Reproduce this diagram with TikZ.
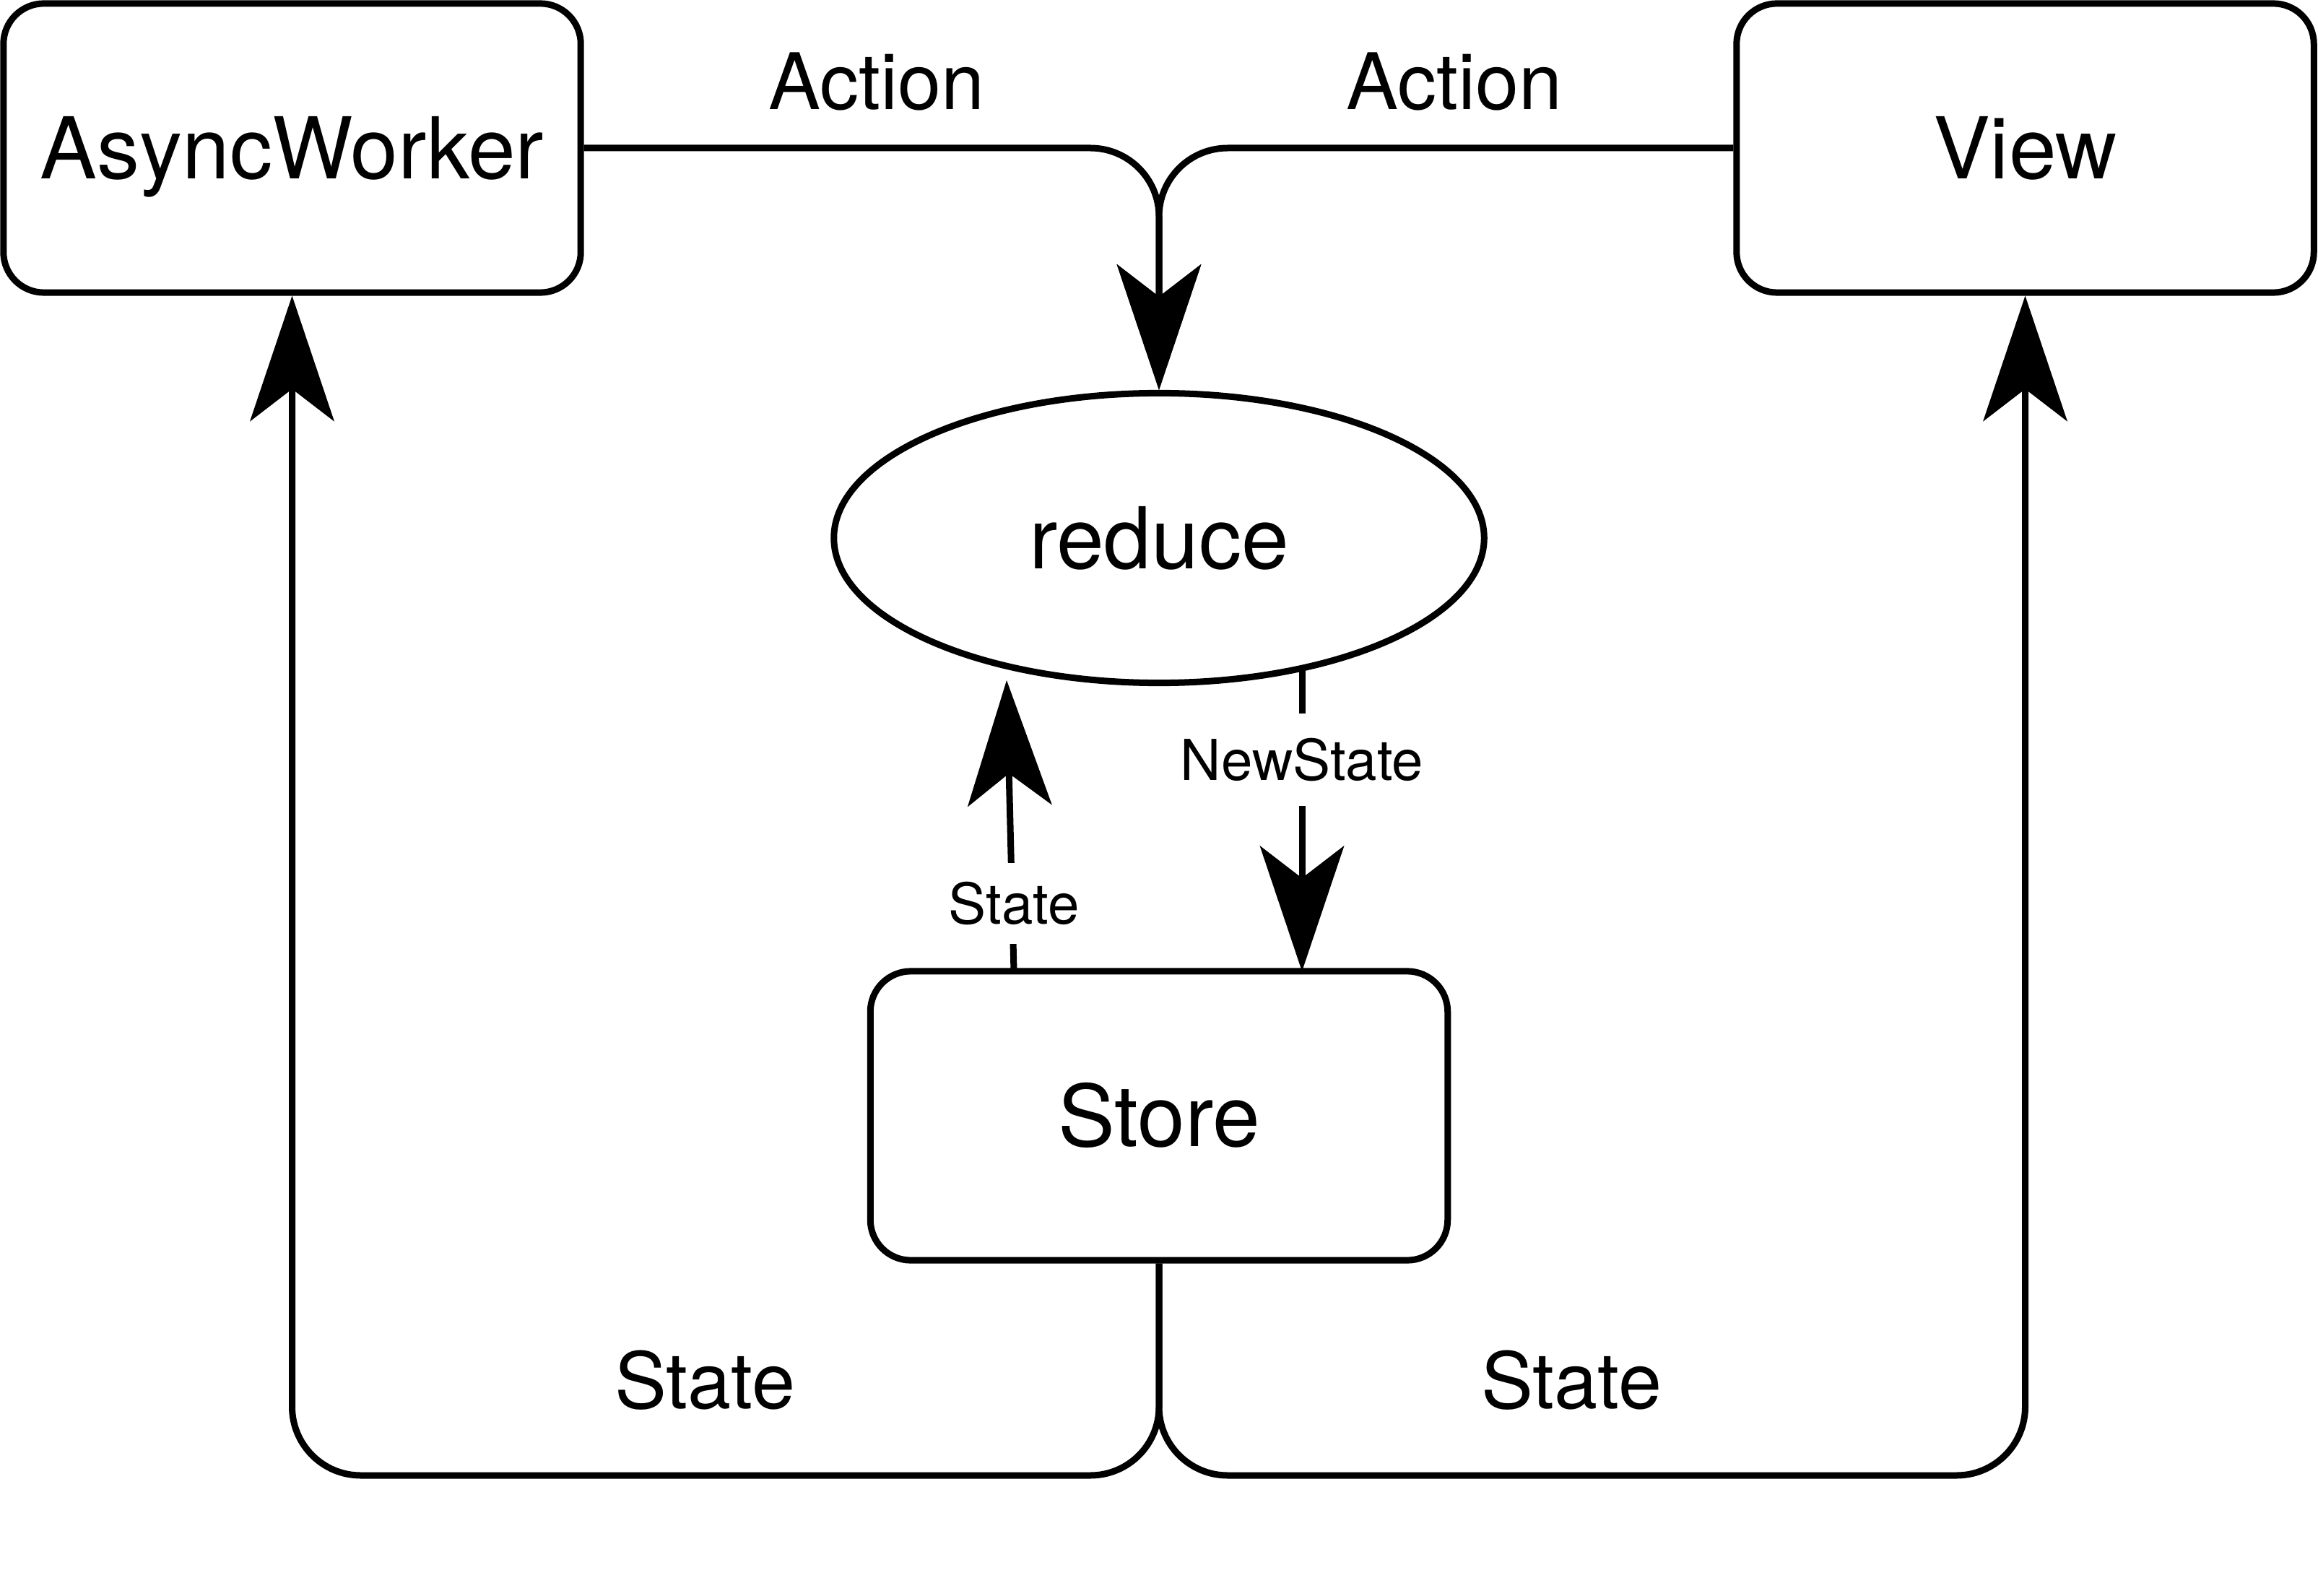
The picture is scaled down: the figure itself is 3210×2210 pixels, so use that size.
\documentclass[tikz,border=0pt]{standalone}
\usepackage{fontspec}
\setmainfont{TeX Gyre Heros}
\usetikzlibrary{arrows.meta,shapes.geometric}
\begin{document}
\begin{tikzpicture}[x=0.01cm,y=-0.01cm,line width=2.56pt,
  box/.style={draw,rounded corners=0.56cm,minimum width=7.99cm,minimum height=4cm,inner sep=0pt,
    font=\fontsize{33.6}{40}\selectfont,text height=24pt,text depth=0pt},
  ell/.style={draw,ellipse,minimum width=9cm,minimum height=4.01cm,inner sep=0pt,
    font=\fontsize{33.6}{40}\selectfont,text height=24pt,text depth=0pt},
  lbl/.style={font=\fontsize{30.7}{36}\selectfont,inner sep=0pt,text height=22pt,text depth=0pt},
  smalllbl/.style={font=\fontsize{22.2}{26}\selectfont,fill=white,inner xsep=3pt,text height=16pt,text depth=0pt},
  arr/.style={-{Stealth[length=1.74cm,width=1.17cm,inset=0.45cm,line width=0pt]}},
  conn/.style={arr,rounded corners=0.95cm}]
\fill[white] (0,0) rectangle (3210,2210);
\useasboundingbox (0,0) rectangle (3210,2210);

\node[box] (aw) at (404.5,205) {AsyncWorker};
\node[box] (view) at (2804.5,205) {View};
\node[ell] (reduce) at (1605,745) {reduce};
\node[box] (store) at (1605,1545) {Store};

% Action edges
\draw[conn] (aw.east) -| (reduce.north);
\draw[conn] (view.west) -| (reduce.north);
\node[lbl] (act1) at (1214,113) {Action};
\node[lbl] (act2) at (2014,113) {Action};

% State edges at the bottom
\coordinate (bot) at (1605,2043);
\draw[conn] (store.south) -- (bot) -| (aw.south);
\draw[conn] (store.south) -- (bot) -| (view.south);
\node[lbl] (st1) at (976,1912) {State};
\node[lbl] (st2) at (2176,1912) {State};

% State from store to reduce
\coordinate (sUp0) at (1404,1345);
\coordinate (sUp1) at (1394,942);
\draw[arr] (sUp0) -- (sUp1);
\node[smalllbl,inner ysep=0.28cm] (st3) at (1404,1251) {State};

% NewState from reduce to store
\coordinate (ns0) at (1803,925);
\coordinate (ns1) at (1803,1345);
\draw[arr] (ns0) -- (ns1);
\node[smalllbl,inner ysep=0.36cm] (ns) at (1803,1052) {NewState};
\end{tikzpicture}
\end{document}
